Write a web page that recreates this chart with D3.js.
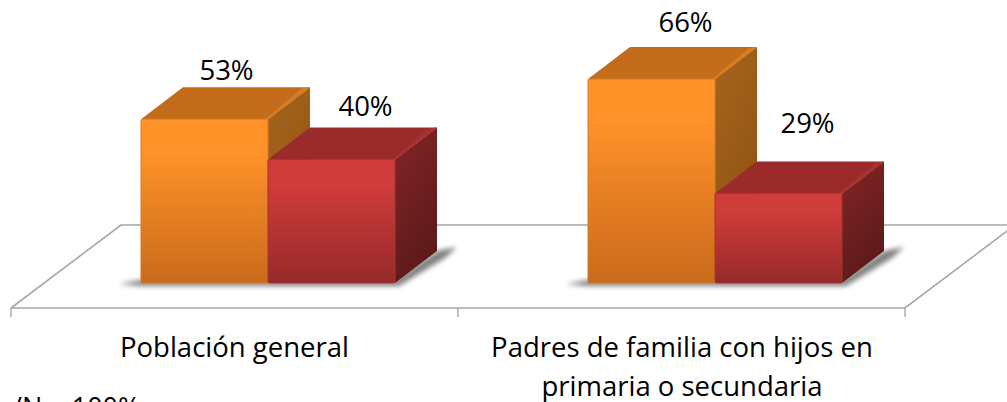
<!DOCTYPE html>
<html><head><meta charset="utf-8">
<script src="https://cdnjs.cloudflare.com/ajax/libs/d3/7.8.5/d3.min.js"></script>
<style>html,body{margin:0;padding:0;background:#fff;overflow:hidden}svg{display:block}text{font-family:"Open Sans",sans-serif;fill:#000}</style>
</head><body><svg id="c" width="1007" height="402"></svg>
<script>
const categories = ["Población general", "Padres de familia con hijos en|primaria o secundaria"];
const seriesNames = ["A", "B"];
const seriesA = [53, 66];
const seriesB = [40, 29];
const labelDX = [[22, 34], [34, 29]];
const labelDY = [[39, 43], [47, 60]];
const categoryDX = [0, 0.5];
const note = "/N = 100%";

const baseY = 283, depthX = 42, depthY = 32;
const svg = d3.select("#c");
const defs = svg.append("defs");

const x = d3.scaleBand().domain(categories).range([11, 905]);
const inner = d3.scaleBand().domain(seriesNames).range([0, 254]);
const barOffset = 130;
const y = d3.scaleLinear().domain([0, 100]).range([baseY, baseY - 309]);

const palette = {
  A: {top:"#c26c1c", topHi:"#d97c20", side1:"#a5631b", side2:"#8e5215", f1:"#ff9229", f2:"#ca6a1c", edge:"#d67c22"},
  B: {top:"#9b2b2b", topHi:"#ab3030", side1:"#802424", side2:"#5d1a1a", f1:"#d03c3a", f2:"#952a2a", edge:"#a83232"}
};
for (const k of seriesNames) {
  const p = palette[k];
  const g = defs.append("linearGradient").attr("id","f"+k).attr("x1",0).attr("y1",0).attr("x2",0).attr("y2",1);
  g.append("stop").attr("offset","0.2").attr("stop-color",p.f1);
  g.append("stop").attr("offset","1").attr("stop-color",p.f2);
  const s = defs.append("linearGradient").attr("id","s"+k).attr("x1",0).attr("y1",0).attr("x2",0.4).attr("y2",1);
  s.append("stop").attr("offset","0.1").attr("stop-color",p.side1);
  s.append("stop").attr("offset","1").attr("stop-color",p.side2);
}
const blur = defs.append("filter").attr("id","sh").attr("x","-20%").attr("y","-50%").attr("width","140%").attr("height","200%");
blur.append("feGaussianBlur").attr("stdDeviation",2.5);

const floorFront = 308, floorBack = 225, floorDX = 110;
const xL = x.range()[0], xR = x.range()[1];
const axisColor = "#a6a6a6";
svg.append("path")
  .attr("d", d3.line()([[xL,floorFront],[xL+floorDX,floorBack],[xR+floorDX,floorBack],[xR,floorFront],[xL,floorFront]]))
  .attr("fill","#fff").attr("stroke",axisColor).attr("stroke-width",1.6);

const ticks = [xL, xL + x.step(), xR];
svg.selectAll("line.tick").data(ticks).join("line").attr("class","tick")
  .attr("x1",d=>d).attr("x2",d=>d).attr("y1",floorFront).attr("y2",floorFront+9)
  .attr("stroke",axisColor).attr("stroke-width",1.4);

categories.forEach((c,i) => {
  const x0 = x(c) + barOffset;
  const g = svg.append("g");
  const xe = x0 + 254;
  g.append("path").attr("filter","url(#sh)").attr("fill","#555").attr("opacity",0.75)
    .attr("d", d3.line()([[x0-22,baseY+1],[x0,baseY-3],[xe,baseY-3],[xe+depthX,baseY-depthY],[xe+depthX+20,baseY-depthY-4],[xe+depthX+8,baseY-depthY+7],[xe+4,baseY+3],[x0,baseY+3]]));
  seriesNames.forEach((k,j) => {
    const v = (k==="A"?seriesA:seriesB)[i];
    const xa = x0 + inner(k), w = inner.bandwidth(), t = y(v), p = palette[k];
    g.append("path").attr("fill",`url(#s${k})`)
      .attr("d", d3.line()([[xa+w,t],[xa+w+depthX,t-depthY],[xa+w+depthX,baseY-depthY],[xa+w,baseY]]));
    g.append("path").attr("fill",p.top)
      .attr("d", d3.line()([[xa,t],[xa+depthX,t-depthY],[xa+w+depthX,t-depthY],[xa+w,t]]));
    g.append("path").attr("fill",p.topHi)
      .attr("d", d3.line()([[xa+w-3,t],[xa+w+depthX-8,t-depthY+1],[xa+w+depthX,t-depthY],[xa+w,t]]));
    g.append("rect").attr("x",xa).attr("y",t).attr("width",w).attr("height",baseY-t).attr("rx",1.5)
      .attr("fill",`url(#f${k})`).attr("stroke",p.edge).attr("stroke-width",1);
    g.append("text").attr("x", xa + labelDX[i][j] + w/2).attr("y", t - labelDY[i][j])
      .attr("text-anchor","middle").attr("font-size",27.5).text(v+"%");
  });
  c.split("|").forEach((ln,li) => {
    svg.append("text").attr("x", x(c)+x.bandwidth()/2 + categoryDX[i])
      .attr("y", 357 + li*38.5)
      .attr("text-anchor","middle").attr("font-size",27.5).text(ln);
  });
});

svg.append("text").attr("x",12).attr("y",417).attr("font-size",27).text(note);
</script></body></html>
